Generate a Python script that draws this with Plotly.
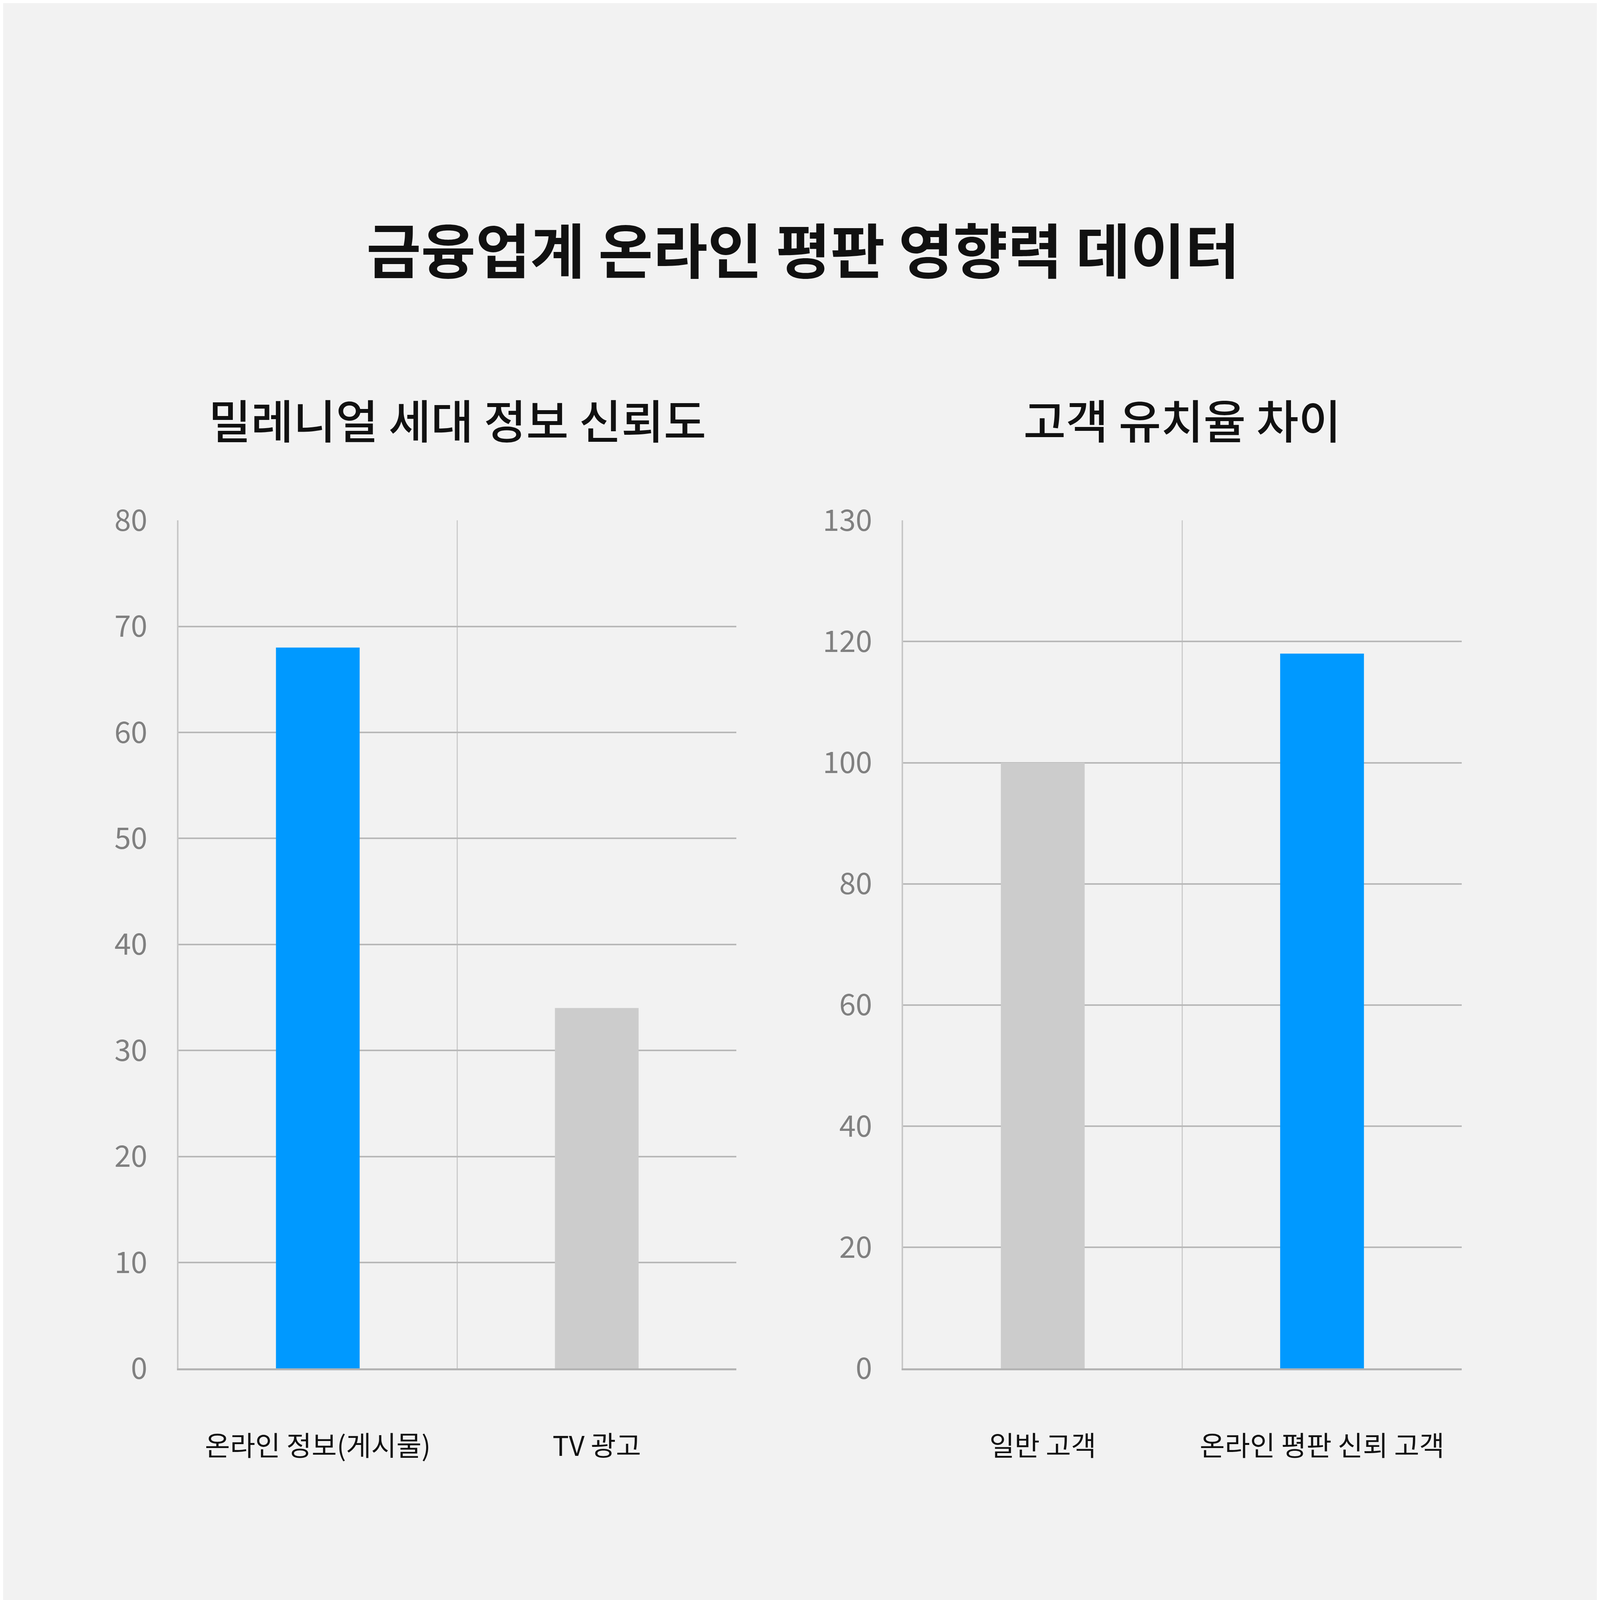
import plotly.graph_objects as go

# data
title_main = "금융업계 온라인 평판 영향력 데이터"

trust_title = "밀레니얼 세대 정보 신뢰도"
trust_cats = ["온라인 정보(게시물)", "TV 광고"]
trust_vals = [68, 34]
trust_ticks = [0, 10, 20, 30, 40, 50, 60, 70, 80]
trust_ticktext = ["0", "10", "20", "30", "40", "50", "60", "70", "80"]

retain_title = "고객 유치율 차이"
retain_cats = ["일반 고객", "온라인 평판 신뢰 고객"]
retain_vals = [100, 118]
# top gridline is labelled 130 in the original, though it sits one step above 120
retain_ticks = [0, 20, 40, 60, 80, 100, 120, 140]
retain_ticktext = ["0", "20", "40", "60", "80", "100", "120", "130"]

BLUE = "#0099ff"
GRAY = "#cccccc"
trust_colors = [BLUE, GRAY]
retain_colors = [GRAY, BLUE]

FONT = "Noto Sans CJK KR"

fig = go.Figure()

fig.add_trace(go.Bar(x=trust_cats, y=trust_vals, marker=dict(color=trust_colors, line=dict(width=0)),
                     xaxis="x", yaxis="y", width=0.3, showlegend=False))
fig.add_trace(go.Bar(x=retain_cats, y=retain_vals, marker=dict(color=retain_colors, line=dict(width=0)),
                     xaxis="x2", yaxis="y2", width=0.3, showlegend=False))

# category axes: grid at the boundaries between bars, labels pushed well below the axis
xax = dict(type="category", tickson="boundaries", showgrid=True, gridcolor="#cccccc", gridwidth=3,
           showline=True, linecolor="#b3b3b3", linewidth=5,
           ticks="", ticklabelstandoff=135,
           tickfont=dict(family=FONT, size=70, color="#111111"), zeroline=False, fixedrange=True)
yax = dict(showgrid=True, gridcolor="#b8b8b8", gridwidth=4,
           showline=True, linecolor="#c8c8c8", linewidth=4,
           ticks="", ticklabelstandoff=60,
           tickfont=dict(family=FONT, size=76, color="#808080"), zeroline=False, fixedrange=True)

fig.update_layout(
    autosize=True,
    margin=dict(l=0, r=0, t=0, b=0),
    paper_bgcolor="#f2f2f2", plot_bgcolor="#f2f2f2",
    bargap=0.7,
    xaxis=dict(xax, domain=[0.1095, 0.4582], anchor="y"),
    yaxis=dict(yax, domain=[0.1384, 0.6831], anchor="x", range=[0, 80],
               tickvals=trust_ticks, ticktext=trust_ticktext),
    xaxis2=dict(xax, domain=[0.5625, 0.9116], anchor="y2"),
    yaxis2=dict(yax, domain=[0.1384, 0.6831], anchor="x2", range=[0, 140],
                tickvals=retain_ticks, ticktext=retain_ticktext),
    annotations=[
        dict(text=title_main, x=0.5, y=1 - 612 / 4320, xref="paper", yref="paper",
             showarrow=False, xanchor="center", yanchor="middle",
             font=dict(family=FONT, size=152, color="#111111", weight=700)),
        dict(text=trust_title, x=(0.1095 + 0.4582) / 2, y=1 - 1087 / 4320, xref="paper", yref="paper",
             showarrow=False, xanchor="center", yanchor="middle",
             font=dict(family=FONT, size=118, color="#111111", weight=500)),
        dict(text=retain_title, x=(0.5625 + 0.9116) / 2, y=1 - 1087 / 4320, xref="paper", yref="paper",
             showarrow=False, xanchor="center", yanchor="middle",
             font=dict(family=FONT, size=118, color="#111111", weight=500)),
    ],
)

fig.write_html("out.html", default_width="100vw", default_height="100vh")
